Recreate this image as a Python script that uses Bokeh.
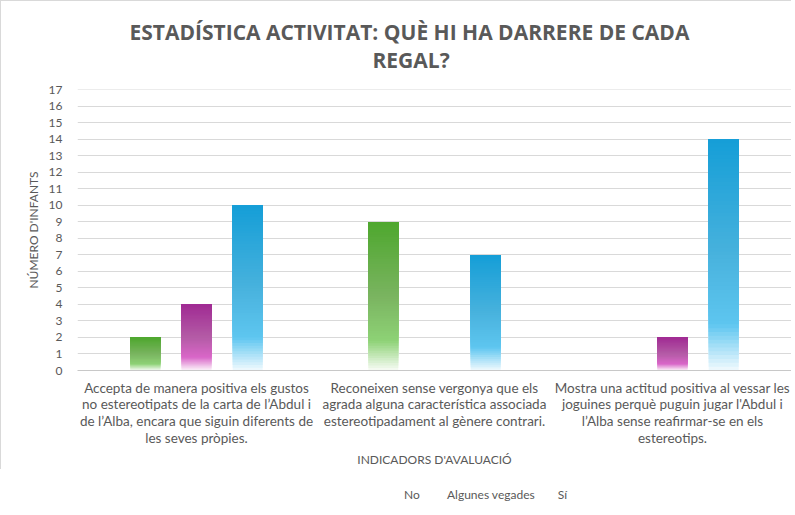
from bokeh.plotting import figure
from bokeh.layouts import column
from bokeh.models import Range1d, FixedTicker, Legend, LegendItem, Title
from bokeh.embed import file_html
from bokeh.resources import INLINE

# ---- data ----
categories = [
    "Accepta de manera positiva els gustos\nno estereotipats de la carta de l’Abdul i\nde l’Alba, encara que siguin diferents de\nles seves pròpies.",
    "Reconeixen sense vergonya que els\nagrada alguna característica associada\nestereotipadament al gènere contrari.",
    "Mostra una actitud positiva al vessar les\njoguines perquè puguin jugar l'Abdul i\nl’Alba sense reafirmar-se en els\nestereotips.",
]
series = ["No", "Algunes vegades", "Sí"]
no_values = [2, 9, 0]
algunes_values = [4, 0, 2]
si_values = [10, 7, 14]
y_ticks = list(range(0, 18))

title_line1 = "ESTADÍSTICA ACTIVITAT: QUÈ HI HA DARRERE DE CADA"
title_line2 = "REGAL?"
y_label = "NÚMERO D'INFANTS"
x_label = "INDICADORS D'AVALUACIÓ"

# ---- styles ----
GREY = "#595959"
FONT = "Lato"
stops = {
    "No": [(0.0, (78, 167, 46)), (0.5, (122, 180, 96)), (0.8, (142, 210, 118)), (1.0, (248, 252, 246))],
    "Algunes vegades": [(0.0, (160, 43, 147)), (0.5, (180, 92, 166)), (0.8, (217, 102, 200)), (1.0, (252, 246, 251))],
    "Sí": [(0.0, (21, 158, 215)), (0.5, (72, 178, 221)), (0.8, (94, 198, 240)), (1.0, (242, 250, 254))],
}
legend_colors = {"No": "#5db43e", "Algunes vegades": "#b4479f", "Sí": "#2fa8dd"}
offsets = [-0.215, 0.0, 0.215]
bar_w = 0.126
N = 60


def grad(st, f):
    for (p0, c0), (p1, c1) in zip(st, st[1:]):
        if f <= p1:
            t = (f - p0) / (p1 - p0)
            return "#%02x%02x%02x" % tuple(int(round(a + (b - a) * t)) for a, b in zip(c0, c1))
    return "#%02x%02x%02x" % st[-1][1]


p = figure(width=790, height=468, frame_width=713, frame_height=280,
           output_backend="svg", toolbar_location=None,
           x_range=Range1d(0, 3), y_range=Range1d(0, 17.03),
           min_border_left=76, min_border_right=1, min_border_top=88, min_border_bottom=100)
p.styles = {"border-top": "1px solid #d9d9d9", "border-left": "1px solid #d9d9d9"}
p.outline_line_color = None
p.background_fill_color = "white"
p.border_fill_color = "white"

all_values = [no_values, algunes_values, si_values]
for s_idx, (name, vals) in enumerate(zip(series, all_values)):
    lefts, rights, bottoms, tops, colors = [], [], [], [], []
    for c_idx, v in enumerate(vals):
        if v <= 0:
            continue
        xc = c_idx + 0.5 + offsets[s_idx]
        for k in range(N):
            b = v * k / N
            f = 1 - (k + 0.5) / N
            lefts.append(xc - bar_w / 2)
            rights.append(xc + bar_w / 2)
            bottoms.append(b)
            tops.append(v)
            colors.append(grad(stops[name], f))
    p.quad(left=lefts, right=rights, bottom=bottoms, top=tops, fill_color=colors, line_color=None)

# axes
p.xgrid.visible = False
p.ygrid.grid_line_color = "#d9d9d9"
p.ygrid.grid_line_width = 1

p.yaxis.ticker = FixedTicker(ticks=y_ticks)
p.yaxis.axis_line_color = None
p.yaxis.major_tick_line_color = None
p.yaxis.minor_tick_line_color = None
p.yaxis.major_tick_out = 0
p.yaxis.major_tick_in = 0
p.yaxis.major_label_standoff = 15
p.yaxis.major_label_text_font = FONT
p.yaxis.major_label_text_font_size = "12px"
p.yaxis.major_label_text_color = GREY
p.yaxis.axis_label = y_label
p.yaxis.axis_label_text_font = FONT
p.yaxis.axis_label_text_font_size = "12px"
p.yaxis.axis_label_text_font_style = "normal"
p.yaxis.axis_label_text_color = GREY
p.yaxis.axis_label_standoff = 5

p.xaxis.ticker = FixedTicker(ticks=[0.5, 1.5, 2.5])
p.xaxis.major_label_overrides = {0.5: categories[0], 1.5: categories[1], 2.5: categories[2]}
p.xaxis.axis_line_color = "#c8c8c8"
p.xaxis.axis_line_width = 1
p.xaxis.major_tick_line_color = None
p.xaxis.minor_tick_line_color = None
p.xaxis.major_tick_out = 0
p.xaxis.major_tick_in = 0
p.xaxis.major_label_standoff = 9
p.xaxis.major_label_text_font = FONT
p.xaxis.major_label_text_font_size = "13.5px"
p.xaxis.major_label_text_color = GREY
p.xaxis.major_label_text_line_height = 1.05
p.xaxis.axis_label = x_label
p.xaxis.axis_label_text_font = FONT
p.xaxis.axis_label_text_font_size = "12px"
p.xaxis.axis_label_text_font_style = "normal"
p.xaxis.axis_label_text_color = GREY
p.xaxis.axis_label_standoff = 3

# titles (outer line 1 = plot title, then second line, then a spacer above the frame)
p.title.text = title_line1
p.title.text_font = "Open Sans"
p.title.text_font_style = "bold"
p.title.text_font_size = "21px"
p.title.text_color = GREY
p.title.align = "left"
p.title.offset = 52
p.title.standoff = -4

top_spacer = Title(text=" ", text_font_size="2px", standoff=12)
p.add_layout(top_spacer, "above")
t2 = Title(text=title_line2, text_font="Open Sans", text_font_style="bold", text_font_size="21px",
           text_color=GREY, align="left", offset=295, standoff=0)
p.add_layout(t2, "above")

# legend strip below the chart
p2 = figure(width=790, height=40, output_backend="svg", toolbar_location=None,
            x_range=Range1d(0, 1), y_range=Range1d(0, 1),
            x_axis_location=None, y_axis_location=None,
            min_border_left=0, min_border_right=0, min_border_top=0, min_border_bottom=0)
p2.grid.visible = False
p2.outline_line_color = None
p2.background_fill_color = "white"
p2.border_fill_color = "white"
legend_items = []
for name in series:
    r = p2.quad(left=[], right=[], bottom=[], top=[], fill_color=legend_colors[name], line_color=None)
    legend_items.append(LegendItem(label=name, renderers=[r]))
legend = Legend(items=legend_items, orientation="horizontal", location=(315, 7),
                border_line_color=None, background_fill_alpha=0,
                label_text_font=FONT, label_text_font_size="12px", label_text_color=GREY,
                glyph_width=8, glyph_height=8, label_standoff=5, spacing=10,
                padding=0, margin=0, label_height=12)
p2.add_layout(legend, "center")

layout = column(p, p2, spacing=0)
open("out.html", "w").write(file_html(layout, INLINE))
